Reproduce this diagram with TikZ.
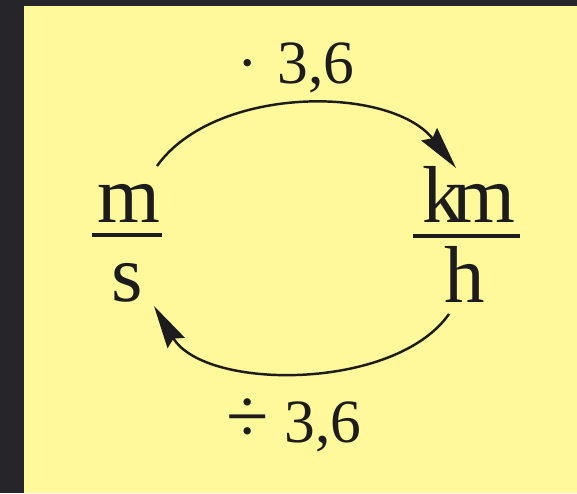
\documentclass[tikz,border=0pt]{standalone}
\usepackage{fontspec}
\setmainfont{Liberation Serif}
\usetikzlibrary{arrows.meta}
\definecolor{boardgray}{RGB}{38,38,42}
\definecolor{noteyellow}{RGB}{255,249,155}
\definecolor{inkblack}{RGB}{28,28,30}

\begin{document}
\begin{tikzpicture}[
  x=0.02cm, y=-0.02cm,
  unit/.style={font=\fontsize{46}{52}\selectfont, text=inkblack, inner sep=0pt, anchor=base},
  factor/.style={font=\fontsize{35}{40}\selectfont, text=inkblack, inner sep=0pt, anchor=base},
  fracbar/.style={line width=2pt, inkblack},
  convarrow/.style={-{Stealth[length=0.86cm, width=0.4cm, inset=0.1cm]}, line width=1.4pt, inkblack},
]

% -------------------------------------------------------------------------
% Board and note paper
% -------------------------------------------------------------------------
\fill[boardgray] (0,0) rectangle (577,493);
\fill[noteyellow] (24,6) rectangle (577,493);
\useasboundingbox (0,0) rectangle (577,493);

% -------------------------------------------------------------------------
% The two units as fractions
% -------------------------------------------------------------------------
\node[unit] (m) at (128.5,222) {m};
\node[unit] (s) at (127,301) {s};
\draw[fracbar] (92,235) -- (162,235);

\node[unit] (km) at (469,222) {k\kern-0.13em m};
\node[unit] (h) at (465,302) {h};
\draw[fracbar] (413,236) -- (520,236);

% -------------------------------------------------------------------------
% Conversion arrows
% -------------------------------------------------------------------------
\coordinate (msout) at (157,166);
\coordinate (kmhin) at (456,168);
\coordinate (kmhout) at (449,314);
\coordinate (msin) at (154,306);

\draw[convarrow] (msout) .. controls (215,85) and (390,85) .. (kmhin);
\draw[convarrow] (kmhout) .. controls (395,391) and (205,391) .. (msin);

\node[factor] (times) at (296,84) {·\hspace{0.32em}3,6};
\node[factor] (divide) at (294,442) {{\fontsize{44}{50}\selectfont ÷}\hspace{0.26em}3,6};

\end{tikzpicture}
\end{document}
